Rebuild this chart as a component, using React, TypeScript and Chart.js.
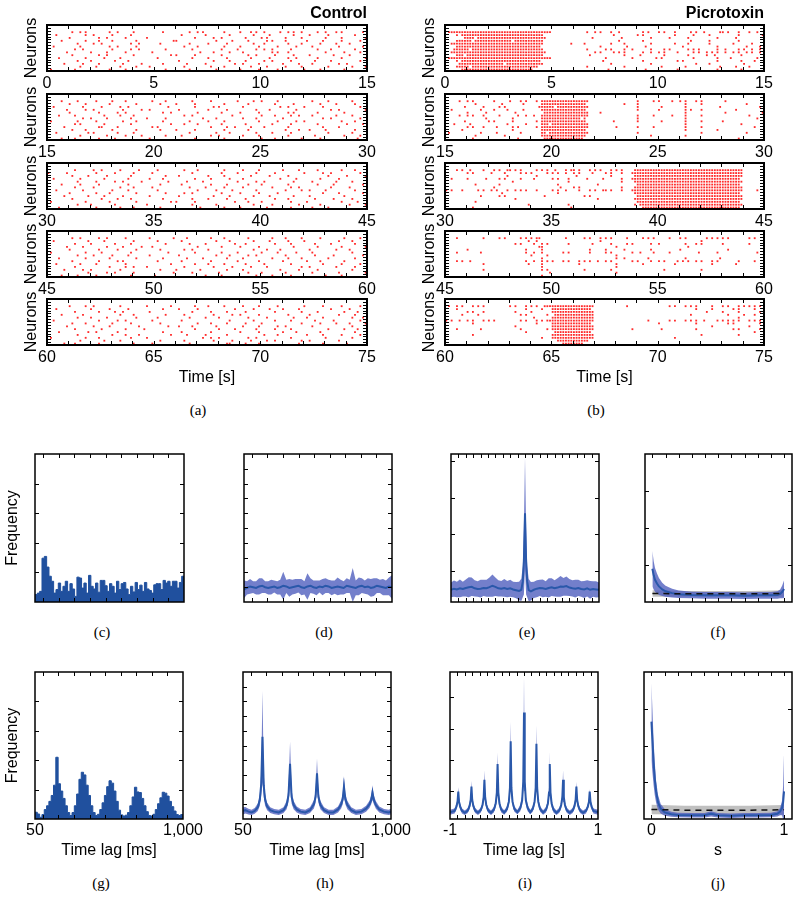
import React, { useEffect, useRef } from 'react';
import { Chart, registerables } from 'chart.js';

Chart.register(...registerables);
Chart.defaults.font.family = "'Liberation Sans', Arial, Helvetica, sans-serif";
Chart.defaults.font.size = 16;
Chart.defaults.color = '#000';

// ================= DATA =================
// Raster strips: each row = one neuron; each hex digit = 0.5 s (4 bins of 0.125 s, MSB first)
const RASTER_BIN = 0.125;
const RASTER_T0 = [0, 15, 30, 45, 60];

const CONTROL_00 = [
  '004a0 12080 1004a 0208a 41290 48a02',
  '10024 08100 00201 00804 10082 04010',
  '00801 20404 00010 24020 a0410 08201',
  '04021 08040 01800 10410 28404 10204',
  '00104 80120 20040 81004 40210 20840',
  '20080 12040 00108 02081 02041 00402',
  '00240 08120 08020 04102 48100 42010',
  '01008 20401 00004 20840 0a200 08104',
  '00401 20080 02810 04012 04082 01040',
  '08020 41000 40020 81008 10240 40201',
  '00108 04200 00400 20820 48100 82004',
  '02041 00810 10081 00241 00821 00480',
  '00082 01042 00100 42008 20410 04021',
  '40200 10400 08040 10081 02008 20100',
];
const CONTROL_15 = [
  '04102 08401 08020 40104 82001 04020',
  '00820 10040 20810 02010 04080 20810',
  '20040 81200 04010 28040 01208 10004',
  '01024 00812 00400 81002 10040 02401',
  '00801 02400 12008 04081 00280 40100',
  '08200 41080 00120 00400 84121 00820',
  '00048 20104 08002 10042 00800 12004',
  '40102 00840 10040 82001 02048 00210',
  '00280 40100 02108 04020 08100 40082',
  '02001 82001 40000 41208 40200 10400',
  '00420 08040 20810 02010 00422 08010',
  '10014 02080 00040 10802 08100 04020',
  '00080 20410 08200 48041 00200 80104',
  '04201 04002 00010 02000 84010 20008',
];
const CONTROL_30 = [
  '00204 81020 40108 02041 00820 40210',
  '81002 04081 00020 04102 04008 12004',
  '00410 20100 08400 82008 10200 04081',
  '20080 40202 10010 40840 01040 20400',
  '00102 04810 04082 00102 40081 00820',
  '04081 00200 20200 41010 80200 41002',
  '00204 01081 00041 02040 08120 02040',
  '10040 08200 40008 10402 00412 08010',
  '00802 10040 08120 04081 02000 10402',
  '02010 40802 00400 20804 10082 00100',
  '00400 82100 10020 81020 04200 81020',
  '40020 10040 02810 00210 80104 00208',
  '00108 04004 00020 10004 08020 20041',
  '08002 01080 20004 02080 20101 04000',
];
const CONTROL_45 = [
  '00481 20402 01080 42010 08410 20104',
  '20010 40080 40200 10804 10208 00420',
  '00208 04100 08041 00220 04100 82010',
  '01040 20811 00008 04081 00080 40201',
  '00801 02040 20120 80004 21002 00840',
  '40020 80100 04010 04100 82041 00020',
  '00104 08202 00400 10812 00400 81002',
  '08020 10040 10082 01040 08210 04010',
  '00401 02800 40200 40101 00804 20100',
  '10082 00400 02010 82020 40100 10204',
  '00200 10484 00100 20408 20012 00810',
  '02048 01000 20804 01040 01020 40020',
  '00010 24080 01020 08010 80401 00401',
  '04102 00100 80001 04002 08100 08200',
];
const CONTROL_60 = [
  '00824 01004 02010 82041 02008 10204',
  '10008 10200 10408 00204 10820 02040',
  '00201 04802 00020 41020 04010 40108',
  '04040 01080 08100 20481 00202 00410',
  '00108 20040 40041 08010 20084 10022',
  '20001 02401 00200 00804 04100 81004',
  '00420 08100 20008 41020 80010 20841',
  '01004 10020 04420 10041 02401 00020',
  '00200 80408 00010 08202 04100 04108',
  '08012 02000 10200 40081 00840 20010',
  '00100 08420 02081 01000 42004 10204',
  '40021 00104 00002 48012 00100 08020',
  '00080 41000 20100 20408 24012 00400',
  '02201 00081 00040 01821 00020 10080',
];

const PICRO_00 = [
  '7ffff fffff 0004a 24028 a20a4 1a224',
  '0bfff ffff8 00000 100a0 02041 00201',
  '01eff ffffc 00010 02004 08100 20400',
  '0fdff fbff8 00000 04020 00081 00200',
  '3ffff ffff8 01080 21004 02101 00810',
  '0ffff ffff0 00002 00810 00400 20042',
  '1fbff ffff8 00040 a1204 28150 24292',
  '3ffff ffffc 0000a 15024 a1052 a4a52',
  '0efff ffff8 00020 01040 20102 40100',
  '7ffff fffff 00000 80201 40040 21004',
  '0bfff ffff0 00001 00020 01400 20108',
  '07fff dfff8 00000 20004 00021 00080',
  '0fbff fffe0 00040 01000 40200 10420',
  '03fff fff80 00000 40010 01000 20100',
];
const PICRO_15 = [
  '04a02 08a2f fffc0 00082 84a28 04000',
  '00100 4040f fff80 01080 00208 00040',
  '01020 a001f bffc0 00080 40200 10002',
  '20042 1040f fff80 00080 80288 00400',
  '00810 02007 fffc2 00000 00200 04001',
  '04a20 8124f fffc0 00082 04208 00020',
  '00010 0400f ffe80 00080 00200 00004',
  '0100a 0402f fff80 10080 40208 08000',
  '10400 1020e fffc0 00000 00200 00100',
  '00a21 0502f fffc0 08082 00208 00008',
  '02000 0400f fff80 00000 00200 20000',
  '40041 0080d fffc0 00080 00008 00040',
  '00100 2000f fff80 00004 00200 00000',
  '00200 01007 fff00 00000 00000 00200',
];
const PICRO_30 = [
  '0a422 9a82a 45a2a 2a1ff fffff fff00',
  '00a04 20a82 a4a10 a23ff fffff fff00',
  '00000 10020 00400 201ff fffff fff00',
  '20810 a0840 a2041 023ff fffff ffe00',
  '00000 04000 02000 021ff fffff fff00',
  '00100 80000 20004 000ff fffff ffe00',
  '00002 00000 10a00 021ff fffff fff00',
  'a20a5 12a20 a4229 a23ff fffff fff04',
  '00000 40000 20000 001ff fffff ffe00',
  '00040 a0004 000a0 000ff fffff fff00',
  '00000 02000 00004 001ff fffff fff00',
  '00100 00000 00000 000ff fffff ffe00',
  '00000 00100 02000 0017f fffff fff00',
  '00200 00000 01000 0003f fffff ffe00',
];
const PICRO_45 = [
  '08020 a0ab0 040a2 a082a 08a02 aa028',
  '00000 00120 00002 00000 00008 00000',
  '00000 0284a 02010 20a04 80228 08020',
  '00000 00018 00000 08000 00100 00000',
  '00800 00208 00020 81004 00800 02000',
  '08040 00248 0a020 a0242 08010 20004',
  '00000 00082 00000 08000 00000 00000',
  '00000 00008 00000 09008 00200 10000',
  '0a400 0024a 8a2a4 a0284 a1528 a0208',
  '00020 00108 00200 08020 02000 80400',
  '00000 00008 00000 08000 00000 00000',
  '00020 0000a 00080 20000 20008 00000',
  '00000 00001 00000 08000 00000 00000',
  '00000 00008 00000 00000 00000 00000',
];
const PICRO_60 = [
  '4a2a0 0a2a7 ffff0 00800 0a2a0 8a2aa',
  '08000 00208 fffe0 00000 00020 80a08',
  '00a20 02080 ffff0 00000 00002 08202',
  '02080 00a02 7fff0 00000 00080 02088',
  '00000 00040 ffff0 00000 00000 00200',
  'a4a2a 00a2b ffff0 00008 0a2a4 2aa2a',
  '00200 00020 fffe0 00000 80020 02802',
  '00000 02000 ffff0 00000 00000 80020',
  '08040 00802 ffff0 00200 40020 00a02',
  '00000 00200 7ffe0 00000 00000 00008',
  '00200 00000 ffff0 00000 00008 00200',
  '00000 00008 ffff0 00000 02000 00000',
  '00000 00000 3ffc0 00000 00000 00000',
  '00000 00000 0ff00 00000 00000 00000',
];
const CONTROL = [CONTROL_00, CONTROL_15, CONTROL_30, CONTROL_45, CONTROL_60];
const PICRO = [PICRO_00, PICRO_15, PICRO_30, PICRO_45, PICRO_60];

// (c) ISI histogram control, 64 bins 50..1000 ms
const HIST_RANGE = [50, 1000];
const C_HIST = [0.25, 0.3, 0.36, 1.48, 1.54, 1.18, 0.87, 0.7, 0.3, 0.42,
  0.64, 0.36, 0.53, 0.7, 0.36, 0.62, 0.44, 0.19, 0.84, 0.81,
  0.47, 0.64, 0.3, 0.9, 0.53, 0.44, 0.64, 0.33, 0.73, 0.73,
  0.55, 0.36, 0.62, 0.53, 0.3, 0.7, 0.42, 0.62, 0.66, 0.44,
  0.25, 0.53, 0.34, 0.66, 0.42, 0.57, 0.36, 0.66, 0.44, 0.39,
  0.3, 0.58, 0.62, 0.62, 0.42, 0.73, 0.64, 0.7, 0.53, 0.7,
  0.7, 0.47, 0.66, 0.87];
// (g) ISI histogram picrotoxin
const G_HIST = [0.23, 0.17, 0.06, 0.15, 0.32, 0.45, 0.6, 0.8, 1.15, 2.1,
  1.2, 0.95, 0.7, 0.45, 0.22, 0.12, 0.22, 0.45, 0.85, 1.35,
  1.59, 1.5, 1.15, 0.8, 0.45, 0.22, 0.12, 0.16, 0.32, 0.55,
  0.8, 1.1, 1.3, 1.22, 0.95, 0.6, 0.3, 0.14, 0.1, 0.13,
  0.22, 0.45, 0.75, 1.08, 0.92, 0.9, 0.7, 0.45, 0.25, 0.12,
  0.1, 0.16, 0.32, 0.52, 0.72, 0.91, 0.88, 0.78, 0.6, 0.42,
  0.27, 0.15, 0.12, 0.15];

// (d) mean ± sd, 50 samples 50..1000 ms
const D_MEAN = [0.85, 0.95, 1.05, 1.0, 0.95, 1.05, 1.1, 1.0, 0.95, 1.0,
  1.05, 0.95, 1.0, 1.1, 1.05, 0.95, 1.0, 1.05, 1.1, 1.0,
  0.95, 1.05, 1.1, 1.0, 0.95, 1.05, 1.0, 1.1, 1.05, 0.95,
  1.0, 1.05, 1.0, 0.95, 1.1, 1.05, 1.0, 0.95, 1.05, 1.1,
  1.0, 1.05, 0.95, 1.0, 1.1, 1.05, 1.0, 0.95, 1.05, 1.0];
const D_SD = [0.6, 0.45, 0.5, 0.4, 0.45, 0.55, 0.5, 0.4, 0.45, 0.5,
  0.4, 0.45, 0.5, 0.95, 0.45, 0.6, 0.5, 0.5, 0.45, 0.55,
  0.45, 0.9, 0.5, 0.45, 0.5, 0.4, 0.55, 0.5, 0.45, 0.5,
  0.45, 0.6, 0.5, 0.45, 0.5, 0.45, 1.3, 0.5, 0.6, 0.5,
  0.45, 0.55, 0.6, 0.6, 0.5, 0.45, 0.55, 0.5, 0.6, 0.8];

// (e) cross-correlation control, lag -1..1 s
const E_X = [-1, -0.96, -0.92, -0.88, -0.84, -0.8, -0.76, -0.72, -0.68, -0.64, -0.6, -0.56,
  -0.52, -0.48, -0.44, -0.4, -0.36, -0.32, -0.28, -0.24, -0.2, -0.16, -0.12, -0.08,
  -0.05, -0.03, -0.015, 0, 0.015, 0.03, 0.05,
  0.08, 0.12, 0.16, 0.2, 0.24, 0.28, 0.32, 0.36, 0.4, 0.44, 0.48, 0.52,
  0.56, 0.6, 0.64, 0.68, 0.72, 0.76, 0.8, 0.84, 0.88, 0.92, 0.96, 1];
const E_MEAN = [0.33, 0.36, 0.34, 0.37, 0.35, 0.38, 0.4, 0.41, 0.37, 0.35, 0.36, 0.38,
  0.37, 0.4, 0.44, 0.41, 0.37, 0.36, 0.38, 0.35, 0.37, 0.34, 0.32, 0.3,
  0.33, 0.55, 1.1, 2.4, 1.1, 0.55, 0.32,
  0.29, 0.33, 0.36, 0.38, 0.37, 0.35, 0.38, 0.4, 0.37, 0.39, 0.42, 0.41,
  0.43, 0.39, 0.37, 0.36, 0.38, 0.35, 0.34, 0.37, 0.33, 0.35, 0.34, 0.33];
const E_SD = [0.2, 0.22, 0.21, 0.24, 0.2, 0.23, 0.27, 0.25, 0.22, 0.21, 0.24, 0.22,
  0.23, 0.26, 0.3, 0.25, 0.22, 0.21, 0.24, 0.22, 0.23, 0.21, 0.22, 0.25,
  0.3, 0.42, 0.9, 1.5, 0.9, 0.42, 0.3,
  0.25, 0.22, 0.23, 0.22, 0.24, 0.21, 0.26, 0.24, 0.22, 0.25, 0.28, 0.24,
  0.26, 0.23, 0.22, 0.24, 0.22, 0.21, 0.23, 0.22, 0.24, 0.21, 0.22, 0.2];
const E_YTICKS = [0.84, 1.83, 2.82, 3.82];

// (f) synchrony distribution control (blue) vs surrogate (grey)
const F_X = [0, 0.01, 0.02, 0.035, 0.05, 0.075, 0.1, 0.15, 0.2, 0.3, 0.4, 0.5, 0.6, 0.7, 0.8, 0.9, 0.95, 0.97, 0.985, 1.0];
const F_MEAN = [0.9, 0.72, 0.6, 0.5, 0.42, 0.34, 0.29, 0.24, 0.21, 0.19, 0.18, 0.18, 0.18, 0.17, 0.18, 0.18, 0.19, 0.22, 0.27, 0.35];
const F_SD = [0.48, 0.38, 0.32, 0.27, 0.23, 0.18, 0.15, 0.12, 0.1, 0.09, 0.09, 0.09, 0.09, 0.09, 0.09, 0.09, 0.1, 0.12, 0.17, 0.24];
const F_GREY_X = [0, 0.25, 0.5, 0.75, 1];
const F_GREY_MEAN = [0.23, 0.22, 0.22, 0.22, 0.23];
const F_GREY_SD = [0.09, 0.08, 0.08, 0.08, 0.09];

// (h) ISI mean ± sd picrotoxin
const H_X = [50, 65, 85, 105, 125, 145, 158, 167, 175, 183, 192, 205, 225, 250, 280, 310, 330, 342, 352, 362,
  375, 395, 420, 450, 480, 505, 516, 525, 534, 547, 570, 600, 630, 660, 680, 690, 698, 707, 720, 745,
  775, 810, 840, 862, 873, 881, 890, 903, 925, 955, 985, 1000];
const H_MEAN = [0.55, 0.6, 0.5, 0.45, 0.55, 0.8, 1.3, 2.4, 5.6, 2.3, 1.3, 0.85, 0.6, 0.5, 0.45, 0.6, 0.95, 1.6, 3.75, 1.5,
  0.95, 0.65, 0.5, 0.45, 0.6, 1.0, 1.5, 3.1, 1.5, 0.95, 0.6, 0.45, 0.45, 0.65, 1.0, 1.35, 2.2, 1.35, 0.95, 0.6,
  0.45, 0.5, 0.7, 1.0, 1.3, 1.8, 1.3, 0.95, 0.65, 0.5, 0.45, 0.5];
const H_SD = [0.25, 0.22, 0.2, 0.18, 0.2, 0.25, 0.4, 0.8, 3.1, 0.8, 0.4, 0.25, 0.2, 0.18, 0.18, 0.2, 0.28, 0.45, 1.5, 0.45,
  0.28, 0.2, 0.18, 0.18, 0.2, 0.28, 0.4, 1.0, 0.4, 0.28, 0.2, 0.18, 0.18, 0.2, 0.28, 0.35, 0.7, 0.35, 0.28, 0.2,
  0.18, 0.18, 0.2, 0.25, 0.3, 0.5, 0.3, 0.25, 0.2, 0.18, 0.18, 0.2];

// (i) cross-correlation picrotoxin
const I_X = [-1,
  -0.938, -0.913, -0.898, -0.888, -0.878, -0.863, -0.838, -0.8,
  -0.76, -0.735, -0.72, -0.71, -0.7, -0.685, -0.66, -0.622,
  -0.585, -0.56, -0.545, -0.535, -0.525, -0.51, -0.485, -0.446,
  -0.407, -0.382, -0.367, -0.357, -0.347, -0.332, -0.307, -0.268,
  -0.23, -0.205, -0.19, -0.18, -0.17, -0.155, -0.13, -0.09,
  -0.05, -0.025, -0.01, 0, 0.01, 0.025, 0.05, 0.084,
  0.118, 0.143, 0.158, 0.168, 0.178, 0.193, 0.218, 0.258,
  0.298, 0.323, 0.338, 0.348, 0.358, 0.373, 0.398, 0.438,
  0.478, 0.503, 0.518, 0.528, 0.538, 0.553, 0.578, 0.618,
  0.658, 0.683, 0.698, 0.708, 0.718, 0.733, 0.758, 0.798,
  0.838, 0.863, 0.878, 0.888, 0.898, 0.913, 0.938, 1];
const I_MEAN = [0.22,
  0.26, 0.4, 0.56, 0.88, 0.56, 0.4, 0.26, 0.2,
  0.27, 0.42, 0.62, 1.04, 0.62, 0.42, 0.27, 0.2,
  0.28, 0.45, 0.7, 1.26, 0.7, 0.45, 0.28, 0.2,
  0.3, 0.5, 0.85, 1.77, 0.85, 0.5, 0.3, 0.21,
  0.32, 0.55, 1.0, 2.5, 1.0, 0.55, 0.32, 0.22,
  0.35, 0.6, 1.2, 3.43, 1.2, 0.6, 0.35, 0.22,
  0.32, 0.55, 1.0, 2.42, 1.0, 0.55, 0.32, 0.21,
  0.3, 0.5, 0.85, 1.77, 0.85, 0.5, 0.3, 0.2,
  0.28, 0.45, 0.7, 1.26, 0.7, 0.45, 0.28, 0.2,
  0.27, 0.42, 0.62, 1.04, 0.62, 0.42, 0.27, 0.2,
  0.26, 0.4, 0.56, 0.88, 0.56, 0.4, 0.26, 0.22];
const I_SD = [0.08,
  0.08, 0.1, 0.12, 0.14, 0.12, 0.1, 0.08, 0.07,
  0.08, 0.1, 0.13, 0.18, 0.13, 0.1, 0.08, 0.07,
  0.08, 0.1, 0.15, 0.3, 0.15, 0.1, 0.08, 0.07,
  0.09, 0.11, 0.18, 0.36, 0.18, 0.11, 0.09, 0.07,
  0.09, 0.12, 0.22, 0.62, 0.22, 0.12, 0.09, 0.07,
  0.1, 0.14, 0.3, 1.15, 0.3, 0.14, 0.1, 0.07,
  0.09, 0.12, 0.22, 0.58, 0.22, 0.12, 0.09, 0.07,
  0.09, 0.11, 0.18, 0.4, 0.18, 0.11, 0.09, 0.07,
  0.08, 0.1, 0.15, 0.3, 0.15, 0.1, 0.08, 0.07,
  0.08, 0.1, 0.12, 0.15, 0.12, 0.1, 0.08, 0.07,
  0.08, 0.09, 0.1, 0.08, 0.1, 0.09, 0.08, 0.08];
const I_YTICKS = [0.91, 1.91, 2.91, 3.91];

// (j) synchrony distribution picrotoxin
const J_X = [0, 0.008, 0.016, 0.025, 0.035, 0.05, 0.07, 0.1, 0.15, 0.2, 0.3, 0.4, 0.45, 0.5, 0.6, 0.7, 0.8, 0.9, 0.95, 0.97, 0.985, 0.993, 1.0];
const J_MEAN = [2.65, 2.1, 1.55, 1.1, 0.75, 0.45, 0.28, 0.18, 0.13, 0.11, 0.1, 0.1, 0.14, 0.1, 0.09, 0.1, 0.1, 0.11, 0.14, 0.2, 0.3, 0.45, 0.75];
const J_SD = [1.05, 0.85, 0.62, 0.45, 0.3, 0.2, 0.13, 0.09, 0.07, 0.06, 0.06, 0.06, 0.07, 0.06, 0.06, 0.06, 0.06, 0.06, 0.07, 0.1, 0.2, 0.45, 1.05];
const J_GREY_X = [0, 0.25, 0.5, 0.75, 1];
const J_GREY_MEAN = [0.26, 0.24, 0.24, 0.24, 0.25];
const J_GREY_SD = [0.13, 0.12, 0.12, 0.12, 0.13];

// tick labels
const LAG_MS_TICKS = [50, 1000];
const LAG_MS_LABELS = ['50', '1,000'];
const LAG_S_TICKS = [-1, 1];
const LAG_S_LABELS = ['-1', '1'];
const S_TICKS = [0, 1];
const S_LABELS = ['0', '1'];

// ================= STYLE =================
const RED = '#ff2b2b';
const HIST_COLOR = '#20509e';
const BAND_FILL = 'rgba(80,95,190,0.8)';
const MEAN_COLOR = '#2a58aa';
const GREY_FILL = 'rgba(140,140,140,0.55)';
const CLEAR = 'rgba(0,0,0,0)';

function seq(a: number, b: number, step: number) {
  const out: number[] = [];
  for (let v = a; v <= b + 1e-9; v += step) out.push(Math.round(v * 1000) / 1000);
  return out;
}

function decodeRaster(rows: string[], t0: number) {
  const pts: any[] = [];
  rows.forEach((row, r) => {
    const s = row.replace(/\s/g, '');
    for (let i = 0; i < s.length && i < 30; i++) {
      const v = parseInt(s[i], 16);
      for (let b = 0; b < 4; b++) {
        if (v & (8 >> b)) pts.push({ x: t0 + (i * 4 + b + 0.5) * RASTER_BIN, y: 13.5 - r });
      }
    }
  });
  return pts;
}

function histDataset(vals: number[]) {
  const [lo, hi] = HIST_RANGE;
  const w = (hi - lo) / vals.length;
  const data = vals.map((v, i) => ({ x: lo + i * w, y: v }));
  data.push({ x: hi, y: vals[vals.length - 1] });
  return {
    data, stepped: 'before', fill: 'origin', backgroundColor: HIST_COLOR,
    borderColor: HIST_COLOR, borderWidth: 1, pointRadius: 0,
  };
}

function bandSets(xs: number[], mean: number[], sd: number[], fillColor: string, lineColor: string, lineW: number, dash?: number[]) {
  return [
    { data: xs.map((x, i) => ({ x, y: mean[i] })), borderColor: lineColor, borderWidth: lineW, pointRadius: 0, fill: false, borderDash: dash || [], tension: 0 },
    { data: xs.map((x, i) => ({ x, y: mean[i] + sd[i] })), borderColor: CLEAR, borderWidth: 1, pointRadius: 0, fill: '+1', backgroundColor: fillColor, tension: 0 },
    { data: xs.map((x, i) => ({ x, y: Math.max(0, mean[i] - sd[i]) })), borderColor: CLEAR, borderWidth: 1, pointRadius: 0, fill: false, tension: 0 },
  ];
}

function evenX(n: number) {
  const [lo, hi] = HIST_RANGE;
  return Array.from({ length: n }, (_, i) => lo + (i * (hi - lo)) / (n - 1));
}

function framePlugin(xs: number[], ys: number[], len: number, border: number) {
  return {
    id: 'frame',
    afterDraw(chart: any) {
      const { ctx, chartArea: a, scales } = chart;
      ctx.save();
      ctx.strokeStyle = '#000';
      ctx.lineWidth = 1;
      ctx.beginPath();
      for (const v of xs) {
        const px = Math.round(scales.x.getPixelForValue(v)) + 0.5;
        ctx.moveTo(px, a.top); ctx.lineTo(px, a.top + len);
        ctx.moveTo(px, a.bottom); ctx.lineTo(px, a.bottom - len);
      }
      for (const v of ys) {
        const py = Math.round(scales.y.getPixelForValue(v)) + 0.5;
        ctx.moveTo(a.left, py); ctx.lineTo(a.left + len, py);
        ctx.moveTo(a.right, py); ctx.lineTo(a.right - len, py);
      }
      ctx.stroke();
      ctx.lineWidth = border;
      ctx.strokeRect(a.left, a.top, a.right - a.left, a.bottom - a.top);
      ctx.restore();
    },
  };
}

type Margin = { l: number; t: number; r: number; b: number };
type Box = { x: number; y: number; w: number; h: number };

function buildConfig(p: any, m: Margin) {
  const showX = !!(p.xLabelValues || p.xStep);
  return {
    type: p.chartType || 'line',
    data: { datasets: p.datasets },
    options: {
      responsive: false,
      animation: false,
      devicePixelRatio: 1,
      events: [],
      layout: { padding: { left: 0, top: m.t, right: m.r, bottom: 0 } },
      plugins: { legend: { display: false }, tooltip: { enabled: false }, title: { display: false } },
      scales: {
        x: {
          type: 'linear', min: p.xMin, max: p.xMax,
          grid: { display: false, drawTicks: false }, border: { display: false },
          ticks: {
            display: showX, autoSkip: false, maxRotation: 0, minRotation: 0,
            padding: p.tickPad ?? 3, stepSize: p.xStep, color: '#000',
            callback: p.xLabelValues ? (v: number) => {
              const i = p.xLabelValues.indexOf(v);
              return i >= 0 ? p.xLabelTexts[i] : '';
            } : undefined,
          },
          afterBuildTicks: p.xLabelValues ? (s: any) => { s.ticks = p.xLabelValues.map((v: number) => ({ value: v })); } : undefined,
          title: { display: !!p.xTitle, text: p.xTitle || '', color: '#000', padding: { top: 0, bottom: p.xTitlePad ?? 4 } },
          afterFit: (s: any) => { s.height = m.b; },
        },
        y: {
          type: 'linear', min: p.yMin, max: p.yMax,
          grid: { display: false, drawTicks: false }, border: { display: false },
          ticks: { display: false },
          title: { display: !!p.yTitle, text: p.yTitle || '', color: '#000', padding: { top: p.yTitlePad ?? 0, bottom: 0 } },
          afterFit: (s: any) => { s.width = m.l; },
        },
      },
    },
    plugins: [framePlugin(p.xTickMarks, p.yTickMarks, p.tickLen, p.border)],
  };
}

function ChartPanel({ box, m, make }: { box: Box; m: Margin; make: () => any }) {
  const ref = useRef<HTMLCanvasElement>(null);
  const W = box.w + m.l + m.r;
  const H = box.h + m.t + m.b;
  useEffect(() => {
    const chart = new Chart(ref.current as HTMLCanvasElement, buildConfig(make(), m) as any);
    return () => chart.destroy();
  }, []);
  return (
    <canvas ref={ref} width={W} height={H}
      style={{ position: 'absolute', left: box.x - m.l, top: box.y - m.t, width: W, height: H }} />
  );
}

function rasterSpec(rows: string[], t0: number, last: boolean) {
  return {
    chartType: 'scatter',
    xMin: t0, xMax: t0 + 15, yMin: 0, yMax: 16,
    datasets: [{
      data: decodeRaster(rows, t0), pointStyle: 'rect', pointRadius: 1.3,
      pointBackgroundColor: RED, backgroundColor: RED, pointBorderWidth: 0, borderWidth: 0,
    }],
    xTickMarks: seq(t0 + 1, t0 + 14, 1), yTickMarks: seq(1, 15, 1),
    xStep: 5, xTitle: last ? 'Time [s]' : undefined, xTitlePad: 4,
    yTitle: 'Neurons', yTitlePad: 22, tickPad: 3, border: 2, tickLen: 4,
  };
}

const LAG_MS_MARKS = seq(100, 900, 100);
const LAG_S_MARKS = seq(-0.9, 0.9, 0.1);
const S_MARKS = seq(0, 1, 0.1);

function cSpec() {
  return {
    xMin: 50, xMax: 1000, yMin: 0, yMax: 5, datasets: [histDataset(C_HIST)],
    xTickMarks: LAG_MS_MARKS, yTickMarks: [1, 2, 3, 4], yTitle: 'Frequency', yTitlePad: 3, border: 1.5, tickLen: 4,
  };
}
function dSpec() {
  return {
    xMin: 50, xMax: 1000, yMin: 0, yMax: 10,
    datasets: bandSets(evenX(D_MEAN.length), D_MEAN, D_SD, BAND_FILL, MEAN_COLOR, 2),
    xTickMarks: LAG_MS_MARKS, yTickMarks: seq(1, 9, 1), border: 1.5, tickLen: 4,
  };
}
function eSpec() {
  return {
    xMin: -1, xMax: 1, yMin: 0, yMax: 4,
    datasets: bandSets(E_X, E_MEAN, E_SD, BAND_FILL, MEAN_COLOR, 2),
    xTickMarks: LAG_S_MARKS, yTickMarks: E_YTICKS, border: 1.5, tickLen: 4,
  };
}
function syncSets(x: number[], mean: number[], sd: number[], gx: number[], gm: number[], gs: number[]) {
  const blue = bandSets(x, mean, sd, BAND_FILL, MEAN_COLOR, 2);
  const grey = bandSets(gx, gm, gs, GREY_FILL, '#111', 1.5, [6, 5]);
  return [grey[0], blue[0], blue[1], blue[2], grey[1], grey[2]];
}
function fSpec() {
  return {
    xMin: -0.056, xMax: 1.06, yMin: 0, yMax: 4,
    datasets: syncSets(F_X, F_MEAN, F_SD, F_GREY_X, F_GREY_MEAN, F_GREY_SD),
    xTickMarks: S_MARKS, yTickMarks: [1, 2, 3], border: 1.5, tickLen: 4,
  };
}
function gSpec() {
  return {
    xMin: 50, xMax: 1000, yMin: 0, yMax: 5, datasets: [histDataset(G_HIST)],
    xTickMarks: LAG_MS_MARKS, yTickMarks: [1, 2, 3, 4], yTitle: 'Frequency', yTitlePad: 3,
    xLabelValues: LAG_MS_TICKS, xLabelTexts: LAG_MS_LABELS, xTitle: 'Time lag [ms]', tickPad: 2, xTitlePad: 4,
    border: 1.5, tickLen: 4,
  };
}
function hSpec() {
  return {
    xMin: 50, xMax: 1000, yMin: 0, yMax: 10,
    datasets: bandSets(H_X, H_MEAN, H_SD, BAND_FILL, MEAN_COLOR, 2),
    xTickMarks: LAG_MS_MARKS, yTickMarks: seq(1, 9, 1),
    xLabelValues: LAG_MS_TICKS, xLabelTexts: LAG_MS_LABELS, xTitle: 'Time lag [ms]', tickPad: 2, xTitlePad: 4,
    border: 1.5, tickLen: 4,
  };
}
function iSpec() {
  return {
    xMin: -1, xMax: 1, yMin: 0, yMax: 4.73,
    datasets: bandSets(I_X, I_MEAN, I_SD, BAND_FILL, MEAN_COLOR, 2),
    xTickMarks: LAG_S_MARKS, yTickMarks: I_YTICKS,
    xLabelValues: LAG_S_TICKS, xLabelTexts: LAG_S_LABELS, xTitle: 'Time lag [s]', tickPad: 2, xTitlePad: 4,
    border: 1.5, tickLen: 4,
  };
}
function jSpec() {
  return {
    xMin: -0.056, xMax: 1.06, yMin: 0, yMax: 4,
    datasets: syncSets(J_X, J_MEAN, J_SD, J_GREY_X, J_GREY_MEAN, J_GREY_SD),
    xTickMarks: S_MARKS, yTickMarks: [1, 2, 3],
    xLabelValues: S_TICKS, xLabelTexts: S_LABELS, xTitle: 's', tickPad: 2, xTitlePad: 4,
    border: 1.5, tickLen: 4,
  };
}

// ================= LAYOUT =================
const RASTER_TOPS = [25, 94, 163, 231, 299];
const RASTER_H = 46;
const COL_A = { x: 47, w: 320 };
const COL_B = { x: 445, w: 319 };

function Text({ x, y, text, align, font }: { x: number; y: number; text: string; align: 'center' | 'right'; font: string }) {
  return (
    <div style={{
      position: 'absolute', left: x, top: y, whiteSpace: 'nowrap', font, color: '#000', lineHeight: 1,
      transform: align === 'center' ? 'translate(-50%,-50%)' : 'translate(-100%,-50%)',
    }}>{text}</div>
  );
}

const SANS_BOLD = "bold 16px 'Liberation Sans', Arial, Helvetica, sans-serif";
const SERIF = "15px 'Liberation Serif', 'Times New Roman', serif";

export default function App() {
  return (
    <div style={{ position: 'absolute', left: 0, top: 0, width: 800, height: 897, background: '#fff', overflow: 'hidden' }}>
      {RASTER_T0.map((t0, k) => (
        <ChartPanel key={'a' + k} box={{ x: COL_A.x, y: RASTER_TOPS[k], w: COL_A.w, h: RASTER_H }}
          m={{ l: 47, t: 12, r: 20, b: k === 4 ? 46 : 22 }} make={() => rasterSpec(CONTROL[k], t0, k === 4)} />
      ))}
      {RASTER_T0.map((t0, k) => (
        <ChartPanel key={'b' + k} box={{ x: COL_B.x, y: RASTER_TOPS[k], w: COL_B.w, h: RASTER_H }}
          m={{ l: 47, t: 12, r: 20, b: k === 4 ? 46 : 22 }} make={() => rasterSpec(PICRO[k], t0, k === 4)} />
      ))}
      <ChartPanel box={{ x: 35, y: 454, w: 149, h: 148 }} m={{ l: 35, t: 4, r: 25, b: 6 }} make={cSpec} />
      <ChartPanel box={{ x: 244, y: 454, w: 148, h: 148 }} m={{ l: 10, t: 4, r: 25, b: 6 }} make={dSpec} />
      <ChartPanel box={{ x: 451, y: 454, w: 148, h: 148 }} m={{ l: 10, t: 4, r: 25, b: 6 }} make={eSpec} />
      <ChartPanel box={{ x: 645, y: 454, w: 147, h: 148 }} m={{ l: 10, t: 4, r: 6, b: 6 }} make={fSpec} />
      <ChartPanel box={{ x: 35, y: 672, w: 148, h: 147 }} m={{ l: 35, t: 4, r: 25, b: 45 }} make={gSpec} />
      <ChartPanel box={{ x: 243, y: 672, w: 148, h: 147 }} m={{ l: 12, t: 4, r: 25, b: 45 }} make={hSpec} />
      <ChartPanel box={{ x: 450, y: 672, w: 148, h: 147 }} m={{ l: 12, t: 4, r: 25, b: 45 }} make={iSpec} />
      <ChartPanel box={{ x: 644, y: 672, w: 148, h: 147 }} m={{ l: 12, t: 4, r: 8, b: 45 }} make={jSpec} />

      <Text x={367} y={12.5} text="Control" align="right" font={SANS_BOLD} />
      <Text x={764} y={12.5} text="Picrotoxin" align="right" font={SANS_BOLD} />
      <Text x={198} y={410} text="(a)" align="center" font={SERIF} />
      <Text x={596} y={410} text="(b)" align="center" font={SERIF} />
      <Text x={102} y={632} text="(c)" align="center" font={SERIF} />
      <Text x={324} y={632} text="(d)" align="center" font={SERIF} />
      <Text x={527} y={632} text="(e)" align="center" font={SERIF} />
      <Text x={718} y={632} text="(f)" align="center" font={SERIF} />
      <Text x={101} y={883} text="(g)" align="center" font={SERIF} />
      <Text x={325} y={883} text="(h)" align="center" font={SERIF} />
      <Text x={525} y={883} text="(i)" align="center" font={SERIF} />
      <Text x={718} y={883} text="(j)" align="center" font={SERIF} />
    </div>
  );
}
